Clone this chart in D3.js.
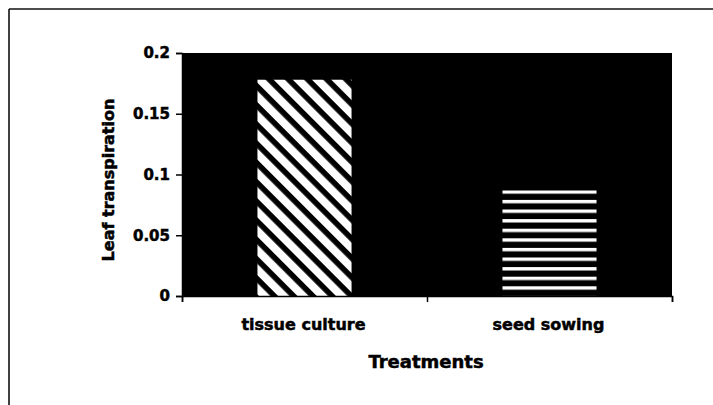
<!DOCTYPE html>
<html>
<head>
<meta charset="utf-8">
<script src="https://cdn.jsdelivr.net/npm/d3@7"></script>
<style>
  html, body { margin: 0; padding: 0; background: #fff; }
  svg { display: block; }
  text { font-family: "DejaVu Sans", sans-serif; font-weight: bold; fill: #000; stroke: #000; stroke-width: 0.5px; }
</style>
</head>
<body>
<svg id="chart" width="713" height="405"></svg>
<script>
// ---- data ----
const categories = ["tissue culture", "seed sowing"];
const values = [0.178, 0.087];
const patterns = ["diag", "horiz"];
const yTickValues = [0, 0.05, 0.1, 0.15, 0.2];
const yTickLabels = ["0", "0.05", "0.1", "0.15", "0.2"];
const xTitle = "Treatments";
const yTitle = "Leaf transpiration";

// ---- layout ----
const W = 713, H = 405;
const plot = { left: 182, right: 672, top: 53, bottom: 296 };

const svg = d3.select("#chart");

// outer frame (right and bottom edges lie outside the picture)
svg.append("line").attr("x1", 9).attr("y1", 9).attr("x2", W + 5).attr("y2", 9)
  .attr("stroke", "#111").attr("stroke-width", 1.6);
svg.append("line").attr("x1", 9).attr("y1", 9).attr("x2", 9).attr("y2", H + 5)
  .attr("stroke", "#111").attr("stroke-width", 1.6);

const y = d3.scaleLinear().domain([0, 0.2]).range([plot.bottom, plot.top]);
const x = d3.scaleBand().domain(categories).range([plot.left, plot.right]).padding(0);
const xBound = d3.scaleLinear().domain([0, categories.length]).range([plot.left, plot.right]);

const barW = x.bandwidth() * 0.384;

// patterns
const defs = svg.append("defs");
const diag = defs.append("pattern").attr("id", "diag")
  .attr("patternUnits", "userSpaceOnUse")
  .attr("width", 13.6).attr("height", 13.6)
  .attr("x", x(categories[0]) + (x.bandwidth() - barW) / 2 + 2)
  .attr("y", y(values[0]))
  .attr("patternTransform", "rotate(-45)");
diag.append("rect").attr("width", 13.6).attr("height", 13.6).attr("fill", "#000");
diag.append("rect").attr("width", 8).attr("height", 13.6).attr("fill", "#fff");

const horiz = defs.append("pattern").attr("id", "horiz")
  .attr("patternUnits", "userSpaceOnUse")
  .attr("width", 20).attr("height", 9.6)
  .attr("x", 0).attr("y", y(values[1]));
horiz.append("rect").attr("width", 20).attr("height", 9.6).attr("fill", "#000");
horiz.append("rect").attr("width", 20).attr("height", 3.4).attr("fill", "#fff");

// plot area
svg.append("rect")
  .attr("x", plot.left).attr("y", plot.top)
  .attr("width", plot.right - plot.left).attr("height", plot.bottom - plot.top)
  .attr("fill", "#000");

// bars
svg.selectAll("rect.bar").data(categories).enter().append("rect")
  .attr("class", "bar")
  .attr("x", d => x(d) + (x.bandwidth() - barW) / 2)
  .attr("width", barW)
  .attr("y", (d, i) => y(values[i]))
  .attr("height", (d, i) => y(0) - y(values[i]))
  .attr("fill", (d, i) => `url(#${patterns[i]})`);

// y axis
const yAxis = svg.append("g").attr("transform", `translate(${plot.left},0)`)
  .call(d3.axisLeft(y).tickValues(yTickValues)
    .tickFormat((d, i) => yTickLabels[i]).tickSize(6).tickPadding(6));
yAxis.select(".domain").attr("stroke", "#000").attr("stroke-width", 1.5);
yAxis.selectAll(".tick line").attr("stroke", "#000").attr("stroke-width", 1.5);
yAxis.selectAll(".tick text")
  .attr("font-family", "DejaVu Sans").attr("font-weight", "bold")
  .attr("font-size", 15).attr("fill", "#000");

// x axis (ticks at band boundaries)
const xAxis = svg.append("g").attr("transform", `translate(0,${plot.bottom})`)
  .call(d3.axisBottom(xBound).tickValues(d3.range(categories.length + 1))
    .tickFormat("").tickSize(6));
xAxis.select(".domain").attr("stroke", "#000").attr("stroke-width", 1.5);
xAxis.selectAll(".tick line").attr("stroke", "#000").attr("stroke-width", 1.5);

// category labels
svg.selectAll("text.cat").data(categories).enter().append("text")
  .attr("class", "cat")
  .attr("x", d => x(d) + x.bandwidth() / 2 - 1)
  .attr("y", 330)
  .attr("text-anchor", "middle")
  .attr("font-size", 16)
  .text(d => d);

// axis titles
svg.append("text")
  .attr("x", (plot.left + plot.right) / 2 - 1)
  .attr("y", 368)
  .attr("text-anchor", "middle")
  .attr("font-size", 18)
  .text(xTitle);

svg.append("text")
  .attr("transform", "translate(114,180) rotate(-90)")
  .attr("text-anchor", "middle")
  .attr("font-size", 16)
  .text(yTitle);
</script>
</body>
</html>
